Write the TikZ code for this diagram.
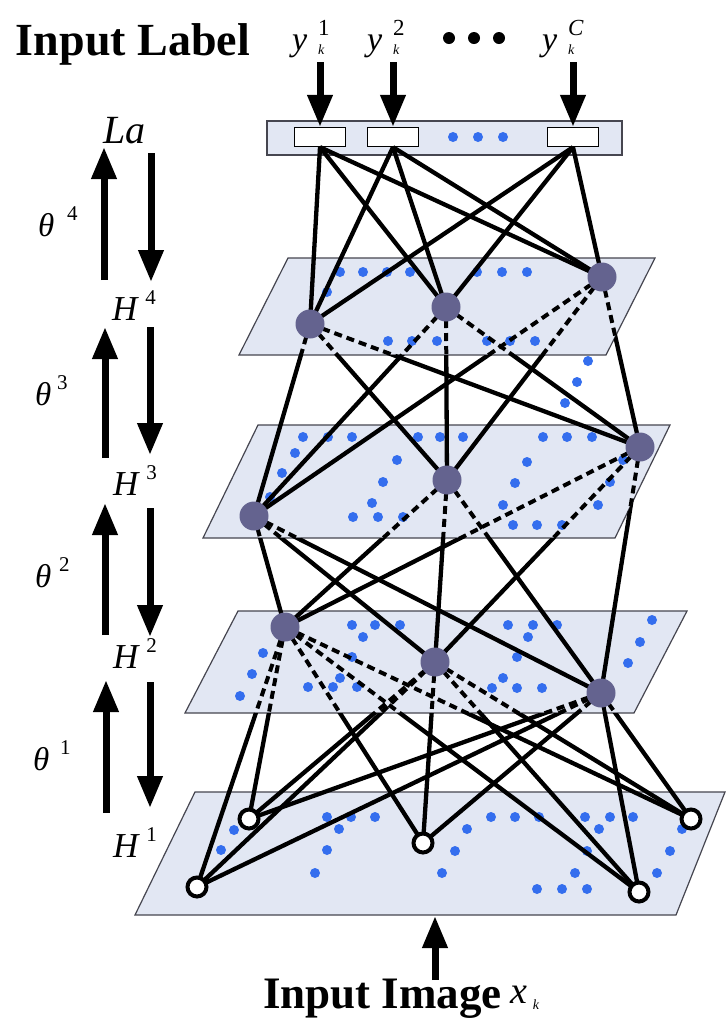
\documentclass[tikz,border=0pt]{standalone}
\usepackage{fontspec}
\setmainfont{Liberation Serif}
\usetikzlibrary{arrows.meta}
\definecolor{planefill}{RGB}{226,231,243}
\definecolor{planeedge}{RGB}{70,70,80}
\definecolor{hfill}{RGB}{100,99,143}
\definecolor{bdot}{RGB}{52,110,238}
\tikzset{
 plane/.style={fill=planefill, draw=planeedge, line width=1.2pt},
 hnode/.style={circle, fill=hfill, minimum size=29pt, inner sep=0pt},
 vnode/.style={circle, fill=white, draw=black, line width=4pt, minimum size=19pt, inner sep=0pt},
 conn/.style={line width=4.3pt},
 hidden/.style={line width=4pt, dash pattern=on 8pt off 5pt},
 bigarrow/.style={line width=7pt, -{Triangle[width=24pt,length=32pt]}},
 labbox/.style={draw=black, fill=white, line width=1.3pt, minimum width=51pt, minimum height=19pt, inner sep=0pt},
 txt/.style={anchor=base west, inner sep=0pt, outer sep=0pt},
}
\newcommand{\itl}[4]{{\fontsize{#1}{#1}\selectfont\itshape #2}\hspace{#4}\raisebox{16pt}{\fontsize{21}{21}\selectfont #3}}
\newcommand{\ylab}[1]{{\fontsize{34}{34}\selectfont\itshape y}\hspace{11pt}\rlap{\raisebox{15pt}{\fontsize{23}{23}\selectfont #1}}\raisebox{-4pt}{\fontsize{14}{14}\selectfont\itshape k}}
\begin{document}
\begin{tikzpicture}[x=1pt,y=-1pt]
\useasboundingbox (0,0) rectangle (726,1021);
\fill[white] (0,0) rectangle (726,1021);

% planes
\draw[plane] (288,258) -- (655,258) -- (606,355) -- (239,355) -- cycle;
\draw[plane] (258,425) -- (670,425) -- (615,538) -- (203,538) -- cycle;
\draw[plane] (238,611) -- (687,611) -- (634,713) -- (185,713) -- cycle;
\draw[plane] (195,792) -- (725,792) -- (676,915) -- (135,915) -- cycle;
\draw[plane] (267,121) rectangle (622,155);

% blue dots
\foreach \x/\y in {453/137,478/137,503/137,
 340/272,363/272,387/272,410/272,477/272,502/272,527/272,327/292,
 388/341,412/341,437/341,487/341,510/341,535/341,
 588/361,577/382,565/403,
 303/437,328/437,352/437,418/437,440/437,463/437,543/437,567/437,592/437,
 295/453,282/473,270/497,
 397/460,383/482,372/503,353/517,378/517,403/517,
 527/462,515/483,503/505,513/525,537/525,562/525,
 623/460,610/482,598/505,
 352/625,375/625,400/625,363/637,
 263/653,252/674,240/696,
 352/657,340/678,308/687,333/687,357/687,
 508/625,533/625,557/625,528/637,
 517/657,503/678,492/688,517/688,542/688,
 652/620,640/642,628/663,
 234/830,221/850,
 327/817,351/817,375/817,339/829,327/850,315/873,
 491/817,515/817,539/817,467/829,455/851,442/873,
 585/817,610/817,633/817,599/829,587/851,575/873,
 537/889,562/889,587/889,
 682/829,670/851,657/873}
 \fill[bdot] (\x,\y) circle[radius=5pt];

% node positions
\coordinate (a1) at (310,324); \coordinate (a2) at (446,307); \coordinate (a3) at (602,277);
\coordinate (b1) at (254,516); \coordinate (b2) at (447,480); \coordinate (b3) at (640,447);
\coordinate (c1) at (285,627); \coordinate (c2) at (435,662); \coordinate (c3) at (601,693);
\coordinate (d1) at (197,887); \coordinate (d2) at (249,819); \coordinate (d3) at (423,843);
\coordinate (d4) at (639,892); \coordinate (d5) at (691,819);

% label boxes
\node[labbox] (lb1) at (320,137) {};
\node[labbox] (lb2) at (393,137) {};
\node[labbox] (lb3) at (573,137) {};

% label -> H4
\foreach \ua in {lb1,lb2,lb3}
 \foreach \lb in {a1,a2,a3}
  \draw[conn] (\ua.south) -- (\lb);

% H4 -> H3
\begin{scope}
 \clip (288,258) -- (655,258) -- (606,355) -- (239,355) -- cycle;
 \foreach \ua in {a1,a2,a3} \foreach \lb in {b1,b2,b3} \draw[hidden] (\ua) -- (\lb);
\end{scope}
\begin{scope}
 \clip (-50,-50) -- (800,-50) -- (800,1100) -- (-50,1100) -- cycle
       (288,258) -- (239,355) -- (606,355) -- (655,258) -- cycle;
 \foreach \ua in {a1,a2,a3} \foreach \lb in {b1,b2,b3} \draw[conn] (\ua) -- (\lb);
\end{scope}

% H3 -> H2
\begin{scope}
 \clip (258,425) -- (670,425) -- (615,538) -- (203,538) -- cycle;
 \foreach \ua in {b1,b2,b3} \foreach \lb in {c1,c2,c3} \draw[hidden] (\ua) -- (\lb);
\end{scope}
\begin{scope}
 \clip (-50,-50) -- (800,-50) -- (800,1100) -- (-50,1100) -- cycle
       (258,425) -- (203,538) -- (615,538) -- (670,425) -- cycle;
 \foreach \ua in {b1,b2,b3} \foreach \lb in {c1,c2,c3} \draw[conn] (\ua) -- (\lb);
\end{scope}

% H2 -> H1
\begin{scope}
 \clip (238,611) -- (687,611) -- (634,713) -- (185,713) -- cycle;
 \foreach \ua in {c1,c2,c3} \foreach \lb in {d1,d2,d3,d4,d5} \draw[hidden] (\ua) -- (\lb);
\end{scope}
\begin{scope}
 \clip (-50,-50) -- (800,-50) -- (800,1100) -- (-50,1100) -- cycle
       (238,611) -- (185,713) -- (634,713) -- (687,611) -- cycle;
 \foreach \ua in {c1,c2,c3} \foreach \lb in {d1,d2,d3,d4,d5} \draw[conn] (\ua) -- (\lb);
\end{scope}

% nodes
\node[hnode] (A1) at (a1) {}; \node[hnode] (A2) at (a2) {}; \node[hnode] (A3) at (a3) {};
\node[hnode] (B1) at (b1) {}; \node[hnode] (B2) at (b2) {}; \node[hnode] (B3) at (b3) {};
\node[hnode] (C1) at (c1) {}; \node[hnode] (C2) at (c2) {}; \node[hnode] (C3) at (c3) {};
\node[vnode] (D1) at (d1) {}; \node[vnode] (D2) at (d2) {}; \node[vnode] (D3) at (d3) {};
\node[vnode] (D4) at (d4) {}; \node[vnode] (D5) at (d5) {};

% top texts
\node[txt] (inlabel) at (16,55) {\fontsize{46}{46}\selectfont\bfseries Input Label};
\node[txt] (y1) at (292,50) {\ylab{1}};
\node[txt] (y2) at (367,50) {\ylab{2}};
\node[txt] (yC) at (542,50) {\ylab{\itshape C}};
\foreach \x in {449,474,499} \fill[black] (\x,38) circle[radius=6pt];

\coordinate (t1) at (320,62); \coordinate (t2) at (393,62); \coordinate (t3) at (573,62);
\draw[bigarrow] (t1) -- (lb1.north);
\draw[bigarrow] (t2) -- (lb2.north);
\draw[bigarrow] (t3) -- (lb3.north);

% left column
\node[txt] (La) at (103,143) {\fontsize{40}{40}\selectfont\itshape La};
\node[txt] (th4) at (38,236) {\itl{33}{θ}{4}{13pt}};
\node[txt] (th3) at (35,405) {\itl{33}{θ}{3}{6pt}};
\node[txt] (th2) at (35,587) {\itl{33}{θ}{2}{8pt}};
\node[txt] (th1) at (33,770) {\itl{33}{θ}{1}{11pt}};
\node[txt] (h4) at (112,320) {\itl{35}{H}{4}{8pt}};
\node[txt] (h3) at (113,495) {\itl{35}{H}{3}{8pt}};
\node[txt] (h2) at (113,668) {\itl{35}{H}{2}{8pt}};
\node[txt] (h1) at (113,857) {\itl{35}{H}{1}{8pt}};

\coordinate (u4a) at (104,280); \coordinate (u4b) at (104,147);
\coordinate (d4a) at (151,153); \coordinate (d4b) at (151,282);
\coordinate (u3a) at (105,458); \coordinate (u3b) at (105,327);
\coordinate (d3a) at (150,327); \coordinate (d3b) at (150,455);
\coordinate (u2a) at (105,635); \coordinate (u2b) at (105,503);
\coordinate (d2a) at (150,508); \coordinate (d2b) at (150,637);
\coordinate (u1a) at (106,813); \coordinate (u1b) at (106,680);
\coordinate (d1a) at (150,682); \coordinate (d1b) at (150,808);
\foreach \p in {4,3,2,1} {
 \draw[bigarrow] (u\p a) -- (u\p b);
 \draw[bigarrow] (d\p a) -- (d\p b);
}

% bottom
\node[txt] (inimage) at (263,1008) {\fontsize{45}{45}\selectfont\bfseries Input Image};
\node[txt] (xk) at (510,1003) {{\fontsize{38}{38}\selectfont\itshape x}\hspace{6pt}\raisebox{-6pt}{\fontsize{14}{14}\selectfont\itshape k}};
\coordinate (ia) at (435,980);
\coordinate (ib) at (435,916);
\draw[bigarrow] (ia) -- (ib);
\end{tikzpicture}
\end{document}
